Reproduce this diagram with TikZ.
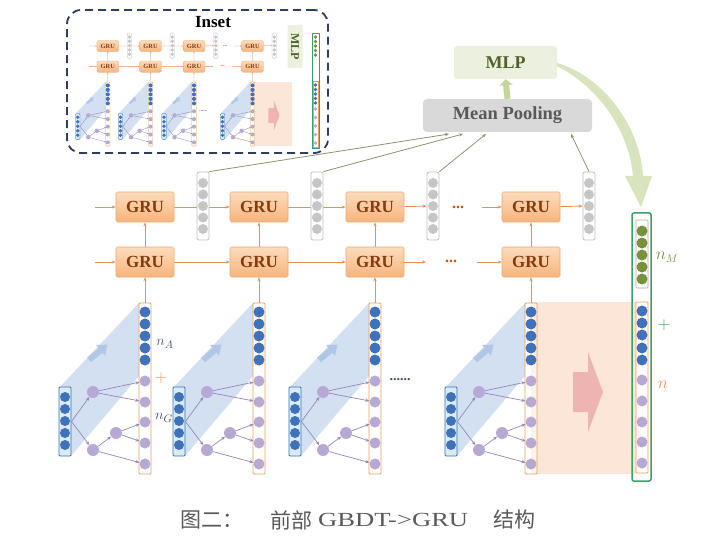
\documentclass[tikz,border=0pt]{standalone}
\usepackage{fontspec}
\setmainfont{Liberation Serif}
\newfontfamily\cjk{Noto Sans CJK SC}
\usetikzlibrary{arrows.meta}
\pgfdeclarelayer{bg}
\pgfdeclarelayer{back}
\pgfsetlayers{back,bg,main}
\definecolor{orL}{HTML}{E5925A}
\definecolor{gruT}{HTML}{FCDCBE}
\definecolor{gruB}{HTML}{F7B47C}
\definecolor{gruD}{HTML}{F0A868}
\definecolor{gruTx}{HTML}{843C0C}
\definecolor{colB}{HTML}{E8A060}
\definecolor{blC}{HTML}{3F72B8}
\definecolor{blB}{HTML}{2E75B6}
\definecolor{blF}{HTML}{DDEBF7}
\definecolor{puC}{HTML}{B8A8D4}
\definecolor{edgeP}{HTML}{9088B8}
\definecolor{bandc}{HTML}{D3E0F1}
\definecolor{bandA}{HTML}{B0C8E6}
\definecolor{gvB}{HTML}{BFBFBF}
\definecolor{gvC}{HTML}{C6C6C6}
\definecolor{peachc}{HTML}{FCE6D8}
\definecolor{pinkc}{HTML}{EBA8A8}
\definecolor{grnB}{HTML}{3AA06A}
\definecolor{olC}{HTML}{76923C}
\definecolor{mlpF}{HTML}{EBF1DE}
\definecolor{mlpT}{HTML}{4F6228}
\definecolor{mlpA}{HTML}{C3D69B}
\definecolor{mpF}{HTML}{D9D9D9}
\definecolor{mpT}{HTML}{595959}
\definecolor{plC}{HTML}{8A9570}
\definecolor{lblC}{HTML}{44546A}
\definecolor{dotC}{HTML}{C55A11}
\definecolor{curveC}{HTML}{D7E4BD}
\definecolor{insetC}{HTML}{2F3E5C}
\definecolor{capC}{HTML}{595959}
\def\LW{1}
\tikzset{
  oline/.style={draw=orL, line width={0.9pt*\LW}},
  tedge/.style={draw=edgeP, line width={0.7pt*\LW}},
  pline/.style={draw=plC, line width=0.8pt},
  gru/.style={rectangle, rounded corners=1.5, top color=gruT, bottom color=gruB, draw=gruD,
    line width={0.6pt*\LW}, minimum width=58, minimum height=30, inner sep=0,
    font=\bfseries\fontsize{17}{17}\selectfont, text=gruTx},
  colbox/.style={rectangle, draw=colB, line width={0.9pt*\LW}, fill=white, fill opacity=0.55,
    minimum width=12, minimum height=171, inner sep=0, rounded corners=1},
  invec/.style={rectangle, draw=blB, fill=blF, line width={0.9pt*\LW}, minimum width=12,
    minimum height=69, inner sep=0, rounded corners=1},
  gvec/.style={rectangle, draw=gvB, fill=white, line width={0.8pt*\LW}, minimum width=12,
    minimum height=68, inner sep=0, rounded corners=2},
  cdot/.style={circle, inner sep=0, minimum size=11},
  bdot/.style={cdot, fill=blC},
  pdot/.style={cdot, fill=puC},
  gdot/.style={cdot, fill=gvC, minimum size=10},
  odot/.style={cdot, fill=olC},
  tnode/.style={cdot, fill=puC, minimum size=12},
}
\newcommand\drawcore[1]{%
\foreach \X/\i in {145/1,259/2,375/3,531/4}{%
  \node[gru] (#1gt\i) at (\X,207) {GRU};
  \node[gru] (#1gb\i) at (\X,262) {GRU};
  \node[colbox] (#1col\i) at (\X,388.5) {};
  \foreach \y/\j in {312/1,324/2,336/3,348/4,360/5} \node[bdot] (#1cb\i-\j) at (\X,\y) {};
  \foreach \y/\j in {381/1,402/2,422/3,443/4,464/5} \node[pdot] (#1cp\i-\j) at (\X,\y) {};
  \node[invec] (#1in\i) at (\X-80,421.5) {};
  \foreach \y/\j in {397/1,409/2,421/3,433/4,445/5} \node[bdot, minimum size=10] (#1ib\i-\j) at (\X-80,\y) {};
  \node[tnode] (#1ta\i) at (\X-52,392) {};
  \node[tnode] (#1tb\i) at (\X-52,450) {};
  \node[tnode] (#1tc\i) at (\X-29,433) {};
  \draw[tedge,->] (#1in\i.east) -- (#1ta\i);
  \draw[tedge,->] (#1in\i.east) -- (#1tb\i);
  \draw[tedge,->] (#1ta\i) -- (#1cp\i-1);
  \draw[tedge,->] (#1ta\i) -- (#1cp\i-2);
  \draw[tedge,->] (#1tb\i) -- (#1tc\i);
  \draw[tedge,->] (#1tc\i) -- (#1cp\i-3);
  \draw[tedge,->] (#1tc\i) -- (#1cp\i-4);
  \draw[tedge,->] (#1tb\i) -- (#1cp\i-5);
  \node[gvec] (#1gv\i) at (\X+58,206) {};
  \foreach \y/\j in {183/1,194.5/2,206/3,217.5/4,229/5} \node[gdot] (#1gc\i-\j) at (\X+58,\y) {};
  \draw[oline,->] (#1gb\i) -- (#1gt\i);
  \draw[oline,->] (#1col\i) -- (#1gb\i);
}
\node[text=dotC, font=\bfseries\fontsize{16}{16}\selectfont] (#1dt) at (458,207) {...};
\node[text=dotC, font=\bfseries\fontsize{16}{16}\selectfont] (#1db) at (451,261) {...};
\node[text=lblC, font=\bfseries\fontsize{14}{14}\selectfont] (#1dm) at (400,380) {......};
\coordinate (#1s1) at (95,207);
\coordinate (#1s2) at (95,262);
\coordinate (#1e1) at (482,207);
\coordinate (#1e2) at (477,262);
\coordinate (#1f2) at (426,262);
\begin{pgfonlayer}{bg}
  \fill[peachc] (531,302) rectangle (636,474);
  \fill[pinkc, opacity=0.8] (573,372) -- (588,372) -- (588,352) -- (603,392) -- (588,432) -- (588,412) -- (573,412) -- cycle;
  \foreach \X in {145,259,375,531}{%
    \fill[bandc] (\X-86,388) -- (\X-6,303) -- (\X-6,376) -- (\X-74,456) -- cycle;
    \fill[bandA] (\X-54.1,362.3) -- (\X-42.5,352.7) -- (\X-40,355.8) -- (\X-37.5,344.6) -- (\X-48.9,345.0) -- (\X-46.4,348.1) -- (\X-57.9,357.7) -- cycle;
  }
  \draw[oline,->] (#1s1) -- (#1gt1);
  \draw[oline,->] (#1gt1) -- (#1gt2);
  \draw[oline,->] (#1gt2) -- (#1gt3);
  \draw[oline,->] (#1gt3) -- (#1gv3);
  \draw[oline,->] (#1e1) -- (#1gt4);
  \draw[oline,->] (#1gt4) -- (#1gv4);
  \draw[oline,->] (#1s2) -- (#1gb1);
  \draw[oline,->] (#1gb1) -- (#1gb2);
  \draw[oline,->] (#1gb2) -- (#1gb3);
  \draw[oline,->] (#1gb3) -- (#1f2);
  \draw[oline,->] (#1e2) -- (#1gb4);
\end{pgfonlayer}
}
\begin{document}
\begin{tikzpicture}[x=1pt,y=-1pt,>={Stealth[length=4pt,width=3.2pt]}]
\begin{pgfonlayer}{back}
\fill[white] (0,0) rectangle (703,553);
\end{pgfonlayer}
\useasboundingbox (0,0) rectangle (703,553);
% main
\drawcore{m}
% labels
\node[text=lblC, font=\fontsize{15}{15}\selectfont] (nA) at (165,344) {$n_A$};
\node[text=orL, font=\fontsize{16}{16}\selectfont] (pl) at (161,378) {$+$};
\node[text=lblC, font=\fontsize{15}{15}\selectfont] (nG) at (164,418) {$n_G$};
% right column
\node[draw=grnB, line width=1.5pt, rounded corners=2, minimum width=19, minimum height=268, inner sep=0] (rc) at (641.5,347) {};
\node[draw=gvB!70!olC, line width=0.6pt, minimum width=12, minimum height=68, inner sep=0, rounded corners=1] (rct) at (642,254) {};
\foreach \y/\j in {231/1,243/2,255/3,267/4,279/5} \node[odot] (ro\j) at (642,\y) {};
\node[colbox] (rcb) at (642,387.5) {};
\foreach \y/\j in {311/1,323/2,335/3,348/4,360/5} \node[bdot] (rb\j) at (642,\y) {};
\foreach \y/\j in {380/1,401/2,422/3,442/4,463/5} \node[pdot] (rp\j) at (642,\y) {};
\node[text=olC, font=\fontsize{16}{16}\selectfont] (nM) at (667,257) {$n_M$};
\node[text=grnB, font=\fontsize{16}{16}\selectfont] (pr) at (664,325) {$+$};
\node[text=orL, font=\fontsize{16}{16}\selectfont] (nn) at (663,385) {$n$};
% pooling and MLP
\node[fill=mpF, rounded corners=4, minimum width=169, minimum height=33, inner sep=0, text=mpT, font=\bfseries\fontsize{18.5}{18.5}\selectfont] (mp) at (507.5,115.5) {Mean Pooling};
\node[fill=mlpF, rounded corners=3, minimum width=103, minimum height=33, inner sep=0, text=mlpT, font=\bfseries\fontsize{18}{18}\selectfont] (mlp) at (505.5,62.5) {MLP};
\draw[line width=6pt, draw=mlpA, -{Triangle[length=6pt,width=13pt]}] (mp.north) -- (mlp.south);
\coordinate (mp1) at (449,134);
\coordinate (mp2) at (463,134);
\coordinate (mp3) at (486,134);
\coordinate (mp4) at (571,134);
\draw[pline,->] (mgv1.north east) -- (mp1);
\draw[pline,->] (mgv2.north east) -- (mp2);
\draw[pline,->] (mgv3.north east) -- (mp3);
\draw[pline,->] (mgv4.north) -- (mp4);
\fill[curveC] (557,63) .. controls (602,76) and (640,125) .. (643,176) -- (652,176) -- (641,207) -- (625,176) -- (633,176) .. controls (629,132) and (600,88) .. (557,66) -- cycle;
% inset
\begin{scope}[shift={(53.4,-31.6)}, scale=0.375, transform shape, >={Stealth[length=1.4pt,width=1.2pt]}]
  \def\LW{0.45}
  \drawcore{i}
\end{scope}
\node[fill=mlpF, rotate=-90, minimum width=43, minimum height=15, inner sep=0, rounded corners=1, text=mlpT, font=\bfseries\fontsize{12}{12}\selectfont] (imlp) at (295,46.5) {MLP};
\node[draw=grnB, line width=0.8pt, minimum width=7, minimum height=115, inner sep=0] (irc) at (315.5,90.5) {};
\foreach \y/\j in {37/1,41.5/2,46/3,50.5/4,55/5} \node[odot, minimum size=3.6] (io\j) at (315.5,\y) {};
\node[draw=colB, line width=0.4pt, minimum width=5, minimum height=66, inner sep=0] (ircb) at (315.5,114) {};
\foreach \y/\j in {85/1,89.5/2,94/3,98.5/4,103/5} \node[bdot, minimum size=3.8] (ib\j) at (315.5,\y) {};
\foreach \y/\j in {109/1,117.5/2,126/3,134.5/4,143/5} \node[pdot, minimum size=3.8] (ip\j) at (315.5,\y) {};
\node[draw=insetC, line width=1.8pt, dash pattern=on 8pt off 5pt, rounded corners=14, minimum width=261, minimum height=143, inner sep=0] (insetbox) at (197.5,81.5) {};
\node[font=\bfseries\fontsize{17}{17}\selectfont] (insett) at (213,22) {Inset};
% caption
\node[text=capC, font=\cjk\fontsize{21}{21}\selectfont, anchor=west] (cap1) at (177,520) {图二：};
\node[text=capC, font=\cjk\fontsize{21}{21}\selectfont, anchor=west] (cap2) at (267,520) {前部};
\node[text=capC, font=\fontsize{20}{20}\selectfont, anchor=west, inner sep=0] (cap3) at (318,520) {\scalebox{1.33}[1]{GBDT->GRU}};
\node[text=capC, font=\cjk\fontsize{21}{21}\selectfont, anchor=west] (cap4) at (490,520) {结构};
\end{tikzpicture}
\end{document}
